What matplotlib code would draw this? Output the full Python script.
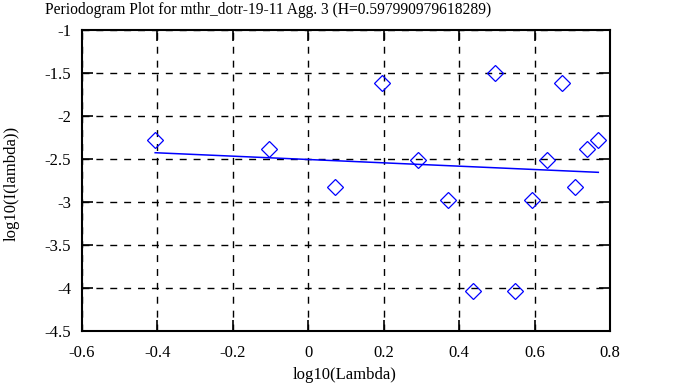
import matplotlib
matplotlib.use('Agg')
import matplotlib.pyplot as plt

plt.rcParams.update({'font.family': 'Liberation Serif', 'font.size': 12})

# periodogram points (log10 frequency, log10 intensity)
log_lambda = [-0.406, -0.104, 0.071, 0.195, 0.292, 0.371, 0.438, 0.496,
              0.548, 0.593, 0.634, 0.673, 0.707, 0.739, 0.769]
log_I = [-2.28, -2.38, -2.82, -1.62, -2.51, -2.98, -4.03, -1.50,
         -4.03, -2.98, -2.51, -1.62, -2.82, -2.38, -2.28]

# least-squares fit line end points
fit_x = [-0.406, 0.769]
fit_y = [-2.427, -2.655]

xticks = [-0.6, -0.4, -0.2, 0, 0.2, 0.4, 0.6, 0.8]
yticks = [-1, -1.5, -2, -2.5, -3, -3.5, -4, -4.5]

fig = plt.figure(figsize=(6.78, 3.87), dpi=100)
ax = fig.add_axes([82/678, 1-331/387, 528/678, 301/387])

ax.plot(log_lambda, log_I, 'D', ms=8.5, mfc='none', mec='#0000ff', mew=0.9, zorder=3)
ax.plot(fit_x, fit_y, color='#0000ff', lw=1.1, zorder=3)

ax.set_xlim(-0.6, 0.8)
ax.set_ylim(-4.5, -1)
ax.set_xticks(xticks)
ax.set_xticklabels([f'{v:g}' for v in xticks])
ax.set_yticks(yticks)
ax.set_yticklabels([f'{v:g}' for v in yticks])
ax.tick_params(direction='in', length=8, width=1.2, top=True, right=True)
ax.tick_params(axis='x', pad=10)
ax.tick_params(axis='y', pad=8)
ax.grid(True, color='black', linestyle=(0, (5, 5)), linewidth=1)
for s in ax.spines.values():
    s.set_linewidth(1.5)

ax.set_xlabel('log10(Lambda)', va='center')
ax.xaxis.set_label_coords((345-82)/528, (331-375)/301)
ax.set_ylabel('log10(I(lambda))', va='center')
ax.yaxis.set_label_coords((12-82)/528, 0.49)
fig.text(45/678, 1-10/387, 'Periodogram Plot for mthr_dotr-19-11 Agg. 3 (H=0.597990979618289)',
         ha='left', va='center', fontsize=11.2)

plt.savefig('out.png', dpi=100)
